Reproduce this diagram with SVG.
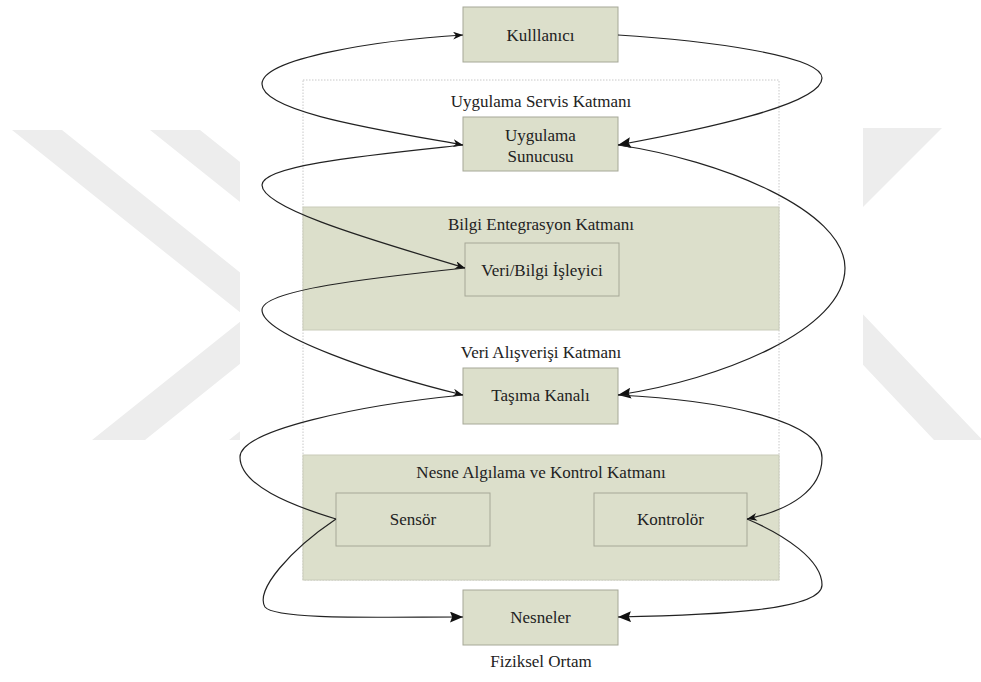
<svg xmlns="http://www.w3.org/2000/svg" width="981" height="682" viewBox="0 0 981 682">
  <style>
    .wm { fill: #ededed; }
    .layer { fill: #dcdfcb; stroke: #c9cbb9; stroke-width: 1; }
    .box { fill: #dcdfcb; stroke: #a6a897; stroke-width: 1; }
    .frame { fill: #ffffff; stroke: #c8c8c8; stroke-width: 1; stroke-dasharray: 1.5 1.5; }
    .lbl { font-family: "Liberation Serif", "DejaVu Serif", "Times New Roman", serif; font-size: 17px; fill: #222; text-anchor: middle; }
    .link { fill: none; stroke: #222; stroke-width: 1.2; }
  </style>
  <defs>
    <marker id="arrow" viewBox="0 0 10 8" refX="10" refY="4" markerWidth="10" markerHeight="8" markerUnits="userSpaceOnUse" orient="auto-start-reverse">
      <path d="M0,0 L10,4 L0,8 L3,4 z" fill="#111"/>
    </marker>
    <marker id="arrowBig" viewBox="0 0 12 10" refX="12" refY="5" markerWidth="13" markerHeight="11" markerUnits="userSpaceOnUse" orient="auto-start-reverse">
      <path d="M0,0 L12,5 L0,10 L2,5 z" fill="#111"/>
    </marker>
  </defs>

  <rect width="981" height="682" fill="#ffffff"/>

  <!-- background chevrons, partly covered by the diagram's white panel -->
  <g id="background">
    <polygon class="wm" points="12,130 62,130 297,318 145,440 92,440 246,317"/>
    <polygon class="wm" points="150,130 200,130 435,318 282,440 229,440 384,317"/>
    <polygon class="wm" points="942,128 800,128 800,270"/>
    <polygon class="wm" points="800,248 800,298 934,440 990,440 990,448"/>
    <rect x="240" y="0" width="623" height="682" fill="#ffffff"/>
  </g>

  <!-- layers -->
  <rect id="app-service-layer" class="frame" x="303" y="80" width="476" height="500"/>
  <g id="integration-layer">
    <rect class="layer" x="303" y="207" width="476" height="123"/>
    <text class="lbl" x="541" y="230">Bilgi Entegrasyon Katmanı</text>
  </g>
  <g id="sensing-layer">
    <rect class="layer" x="303" y="455" width="476" height="125"/>
    <text class="lbl" x="541" y="478">Nesne Algılama ve Kontrol Katmanı</text>
  </g>
  <text class="lbl" x="541" y="107">Uygulama Servis Katmanı</text>
  <text class="lbl" x="541" y="358">Veri Alışverişi Katmanı</text>
  <text class="lbl" x="541" y="667">Fiziksel Ortam</text>

  <!-- nodes -->
  <g id="kullanici">
    <rect class="box" x="463" y="7" width="155" height="55"/>
    <text class="lbl" x="540.5" y="41">Kulllanıcı</text>
  </g>
  <g id="uygulama-sunucusu">
    <rect class="box" x="463" y="117" width="155" height="54"/>
    <text class="lbl" x="540.5" y="141">Uygulama</text>
    <text class="lbl" x="540.5" y="162">Sunucusu</text>
  </g>
  <g id="isleyici">
    <rect class="box" x="465" y="243" width="154" height="53"/>
    <text class="lbl" x="542" y="276">Veri/Bilgi İşleyici</text>
  </g>
  <g id="tasima-kanali">
    <rect class="box" x="463" y="368" width="155" height="56"/>
    <text class="lbl" x="540.5" y="401">Taşıma Kanalı</text>
  </g>
  <g id="sensor">
    <rect class="box" x="336" y="493" width="154" height="53"/>
    <text class="lbl" x="413" y="525">Sensör</text>
  </g>
  <g id="kontrolor">
    <rect class="box" x="594" y="493" width="153" height="53"/>
    <text class="lbl" x="670.5" y="525">Kontrolör</text>
  </g>
  <g id="nesneler">
    <rect class="box" x="463" y="590" width="155" height="55"/>
    <text class="lbl" x="540.5" y="623">Nesneler</text>
  </g>

  <!-- connectors -->
  <g id="connectors">
    <path class="link" d="M463,145 C380,130 262,112 262,84 C262,58 380,40 463,35" marker-start="url(#arrow)" marker-end="url(#arrow)"/>
    <path class="link" d="M463,145 C370,155 262,165 262,185 C262,210 390,245 465,268" marker-end="url(#arrow)"/>
    <path class="link" d="M465,268 C370,278 262,290 262,310 C262,335 380,375 463,395" marker-end="url(#arrow)"/>
    <path class="link" d="M336,519 C290,505 240,485 240,457 C240,430 360,405 463,395"/>
    <path class="link" d="M336,519 C290,550 255,590 265,607 C275,620 380,617 463,617" marker-end="url(#arrowBig)"/>

    <path class="link" d="M618,35 C700,40 822,55 822,78 C822,105 700,130 618,145" marker-end="url(#arrowBig)"/>
    <path class="link" d="M618,145 C720,160 845,210 845,268 C845,330 720,380 618,395" marker-end="url(#arrowBig)"/>
    <path class="link" d="M618,395 C720,400 822,420 822,458 C822,490 790,510 747,519" marker-end="url(#arrow)"/>
    <path class="link" d="M747,519 C785,535 822,560 822,585 C822,610 720,615 618,617" marker-end="url(#arrowBig)"/>
  </g>
</svg>
